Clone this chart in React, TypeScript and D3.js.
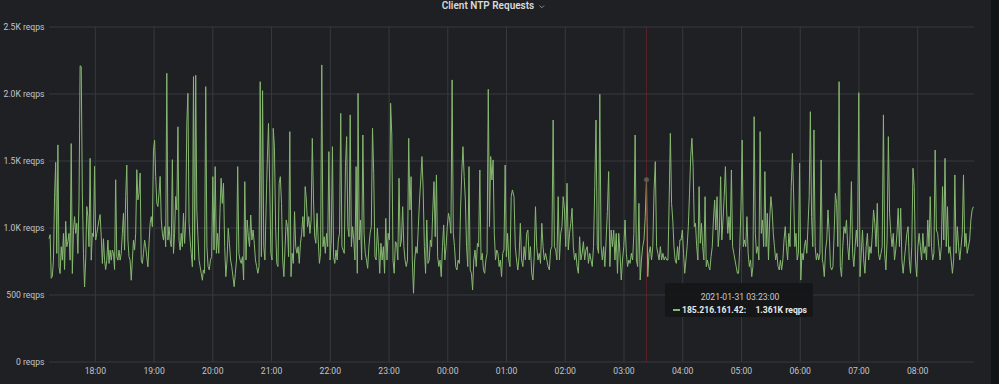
import React from "react";
import * as d3 from "d3";

// ---- data ----
const seg1Start = "2021-01-30 17:12:40";
const seg1End = "2021-01-30 19:49:20";
const seg1Values = [920,950,625,640,760,1230,1490,810,1620,710,660,860,760,960,690,1050,860,900,960,760,1630,660,980,1085,960,1035,810,1200,2210,2205,1260,810,560,760,1160,1085,860,1520,760,960,935,1460,910,960,1010,1060,1100,935,735,920,760,690,760,910,735,835,760,835,810,690,1360,785,760,835,760,810,960,1110,835,1235,1470,910,785,760,610,760,910,835,960,1435,1210,1260,1410,760,735,810,910,860,785,710,885,1035,1085,1010,1580,1655,1385,1185,1160,1260,1385,1060,960,910,1010,860,2155,910,1010,910,860,1510,810,960,1235,1135,1755,910,835,960,860,1110,885,1060,1780,2005,1035,910,810,710,2130,760,2140,1135,935,760,710,660,610];

const seg2Start = "2021-01-30 19:50:20";
const seg2End = "2021-01-30 22:27:35";
const seg2Values = [687,662,2055,861,712,687,761,786,1383,836,1458,811,960,811,1110,1371,1184,1334,861,637,761,998,886,761,712,637,562,662,761,1458,811,761,736,786,612,1346,761,1060,935,861,1097,911,985,886,761,712,662,712,2092,786,2025,861,761,1159,1508,1781,1334,811,761,1744,1607,1010,736,712,1334,1383,1184,761,637,861,1060,1010,786,1719,637,811,736,1122,861,811,861,736,886,960,1085,935,1309,1209,1010,1085,960,1060,1669,1209,935,886,1110,911,736,811,2217,861,935,811,960,861,1570,761,911,1607,786,736,836,761,911,960,1856,861,836,811,1458,1682,1010,935,1844,861,1010,911,761,1458,662];

const seg3Start = "2021-01-30 22:28:20";
const seg3End = "2021-01-31 01:06:00";
const seg3Values = [2005,911,1060,761,1694,960,811,761,699,861,960,1010,1744,1408,786,761,998,861,662,886,761,861,662,1072,761,960,911,1931,1694,761,662,898,886,761,1371,861,911,1159,861,761,712,761,1669,1135,1383,761,513,761,861,811,1010,1209,1358,1533,1284,861,662,1060,736,761,911,861,1135,1346,935,1396,786,712,761,637,861,1023,761,861,1010,1110,1060,960,2105,960,861,712,687,761,736,1135,1408,1607,1383,1209,861,712,1458,687,662,537,761,836,712,886,861,1433,761,811,687,662,761,811,2035,1010,1533,1358,1508,960,761,836,811,712,761,637,811,836,1470,786,960,761,712,1234,1284];

const seg4Start = "2021-01-31 01:07:40";
const seg4End = "2021-01-31 03:43:35";
const seg4Values = [1234,861,761,687,786,1035,761,712,861,761,960,985,761,861,662,612,786,1159,861,761,811,736,1035,861,761,811,761,712,687,836,861,1806,861,836,761,1234,761,960,1010,1234,1135,861,1334,836,960,1035,1147,861,761,811,712,662,935,761,811,898,761,836,861,736,811,761,712,861,1309,1806,861,811,1998,861,761,861,712,911,1122,1421,712,985,861,985,761,960,662,960,811,612,761,861,1060,811,712,761,736,811,761,960,1694,761,712,1184,612,761,861,911,1085,1361,637,811,861,761,861,1284,1495,861,811,761,861,761,811,761,786,761];

const seg5Start = "2021-01-31 03:44:55";
const seg5End = "2021-01-31 06:22:35";
const seg5Values = [761,1209,1707,1184,1060,861,761,736,861,761,911,911,985,811,662,761,861,1010,1259,1533,1669,1458,1010,1035,861,761,1309,886,1035,861,761,1234,712,761,712,687,786,861,1060,1209,985,1234,861,985,1383,911,1060,1234,1458,1135,960,1085,911,1433,861,811,761,712,662,662,861,1159,1657,861,911,861,1085,811,712,761,637,712,1831,960,811,861,761,1719,960,1060,861,1421,861,1110,761,1060,1234,1135,960,861,761,811,712,687,761,687,761,911,1010,861,761,960,861,1309,1557,1259,861,960,761,811,1483,612,811,761,861,911,811,1010,1234,1868,1085,861,1732,861,761,811,761,811,1508,761];

const seg6Start = "2021-01-31 06:23:20";
const seg6End = "2021-01-31 08:56:50";
const seg6Values = [736,637,836,911,1135,960,712,687,712,960,1259,1184,861,2092,712,637,861,1010,960,1060,861,761,960,1346,811,712,861,985,861,2010,637,811,985,761,662,861,960,761,861,811,960,1135,1035,861,1184,811,761,811,861,1844,811,687,911,1682,1110,960,861,960,761,836,960,1147,861,1147,761,662,761,861,960,1010,761,662,861,1446,1309,761,637,861,960,861,761,960,811,861,761,1060,861,1234,861,761,811,1582,985,960,861,761,861,1309,911,1520,861,1159,811,861,761,662,761,1396,811,1010,861,761,861,960,1396,861,960,811,861,911,1060,1135,1159];

const domainStart = "2021-01-30 17:12:40";
const domainEnd = "2021-01-31 08:57:30";
const yTicks = [0, 500, 1000, 1500, 2000, 2500];
const title = "Client NTP Requests";
const seriesName = "185.216.161.42:";
const hoverTime = "2021-01-31 03:23:00";
const hoverValue = 1361;

// ---- layout ----
const W = 999, H = 384;
const M = { left: 49, right: 974, top: 27, bottom: 362 };
const BG = "#1f2024";
const GRID = "#38393e";
const TXT = "#c0c5cb";
const LINE = "#86b870";
const FONT = "Roboto, 'Noto Sans', sans-serif";

const parse = d3.timeParse("%Y-%m-%d %H:%M:%S");

function buildSeries() {
  const segs: [string, string, number[]][] = [
    [seg1Start, seg1End, seg1Values],
    [seg2Start, seg2End, seg2Values],
    [seg3Start, seg3End, seg3Values],
    [seg4Start, seg4End, seg4Values],
    [seg5Start, seg5End, seg5Values],
    [seg6Start, seg6End, seg6Values],
  ];
  const out: { t: Date; v: number }[] = [];
  segs.forEach(([s, e, vals]) => {
    const a = +parse(s)!;
    const b = +parse(e)!;
    vals.forEach((v, i) => {
      out.push({ t: new Date(a + ((b - a) * i) / (vals.length - 1)), v });
    });
  });
  return out;
}

function fmtY(v: number) {
  if (v === 0) return "0 reqps";
  if (v < 1000) return `${v} reqps`;
  return `${(v / 1000).toFixed(1)}K reqps`;
}

export default function App() {
  const data = buildSeries();
  const x = d3.scaleTime().domain([parse(domainStart)!, parse(domainEnd)!]).range([M.left, M.right]);
  const y = d3.scaleLinear().domain([0, 2500]).range([M.bottom, M.top]);
  const xTicks = x.ticks(d3.timeHour.every(1)!);
  const fmtX = d3.timeFormat("%H:%M");
  const line = d3
    .line<{ t: Date; v: number }>()
    .x((d) => x(d.t))
    .y((d) => y(d.v));
  const hx = x(parse(hoverTime)!);
  const hy = y(hoverValue);

  return (
    <svg
      width={W}
      height={H}
      style={{ position: "absolute", left: 0, top: 0, display: "block" }}
      fontFamily={FONT}
    >
      <rect x={0} y={0} width={W} height={H} fill="#121315" />
      <rect x={0} y={0} width={991} height={H} fill={BG} />
      {/* title */}
      <text x={488} y={9} textAnchor="middle" fontSize={10} fontWeight={600} fill="#d8d9da">
        {title}
      </text>
      <path d="M539.5,5.5 L541.8,7.8 L544.1,5.5" fill="none" stroke="#9fa4aa" strokeWidth={0.8} />
      {/* grid */}
      {yTicks.map((t) => (
        <line key={"gy" + t} x1={M.left} x2={M.right} y1={y(t)} y2={y(t)} stroke={GRID} strokeWidth={1} />
      ))}
      {xTicks.map((t) => (
        <line key={"gx" + +t} x1={x(t)} x2={x(t)} y1={M.top} y2={M.bottom} stroke={GRID} strokeWidth={1} />
      ))}
      {/* y labels */}
      {yTicks.map((t) => (
        <text key={"ly" + t} x={44.5} y={y(t)} dy="0.35em" textAnchor="end" fontSize={8.6} fill={TXT}>
          {fmtY(t)}
        </text>
      ))}
      {/* x labels */}
      {xTicks.map((t) => (
        <text key={"lx" + +t} x={x(t)} y={374} textAnchor="middle" fontSize={8.6} fill={TXT}>
          {fmtX(t)}
        </text>
      ))}
      {/* series */}
      <path d={line(data) || ""} fill="none" stroke={LINE} strokeWidth={1} strokeLinejoin="round" />
      {/* hover crosshair */}
      <line x1={hx} x2={hx} y1={M.top} y2={M.bottom} stroke="#8a2222" strokeOpacity={0.55} strokeWidth={1} />
      <circle cx={hx} cy={hy} r={2.5} fill="#5f6658" fillOpacity={0.85} stroke="#3c4438" strokeWidth={0.6} />
      {/* tooltip */}
      <g>
        <rect x={665} y={283} width={148} height={34} rx={2} fill="#141517" fillOpacity={0.93} />
        <text x={740} y={299.5} textAnchor="middle" fontSize={8.6} fill="#c7cbd0">
          {hoverTime}
        </text>
        <line x1={673} x2={680} y1={310} y2={310} stroke={LINE} strokeWidth={2} />
        <text x={682} y={313} fontSize={8.6} fontWeight={700} fill="#e6e8ea">
          {seriesName}
        </text>
        <text x={807} y={313} textAnchor="end" fontSize={8.6} fontWeight={700} fill="#e6e8ea">
          {`${(hoverValue / 1000).toFixed(3)}K reqps`}
        </text>
      </g>
    </svg>
  );
}
